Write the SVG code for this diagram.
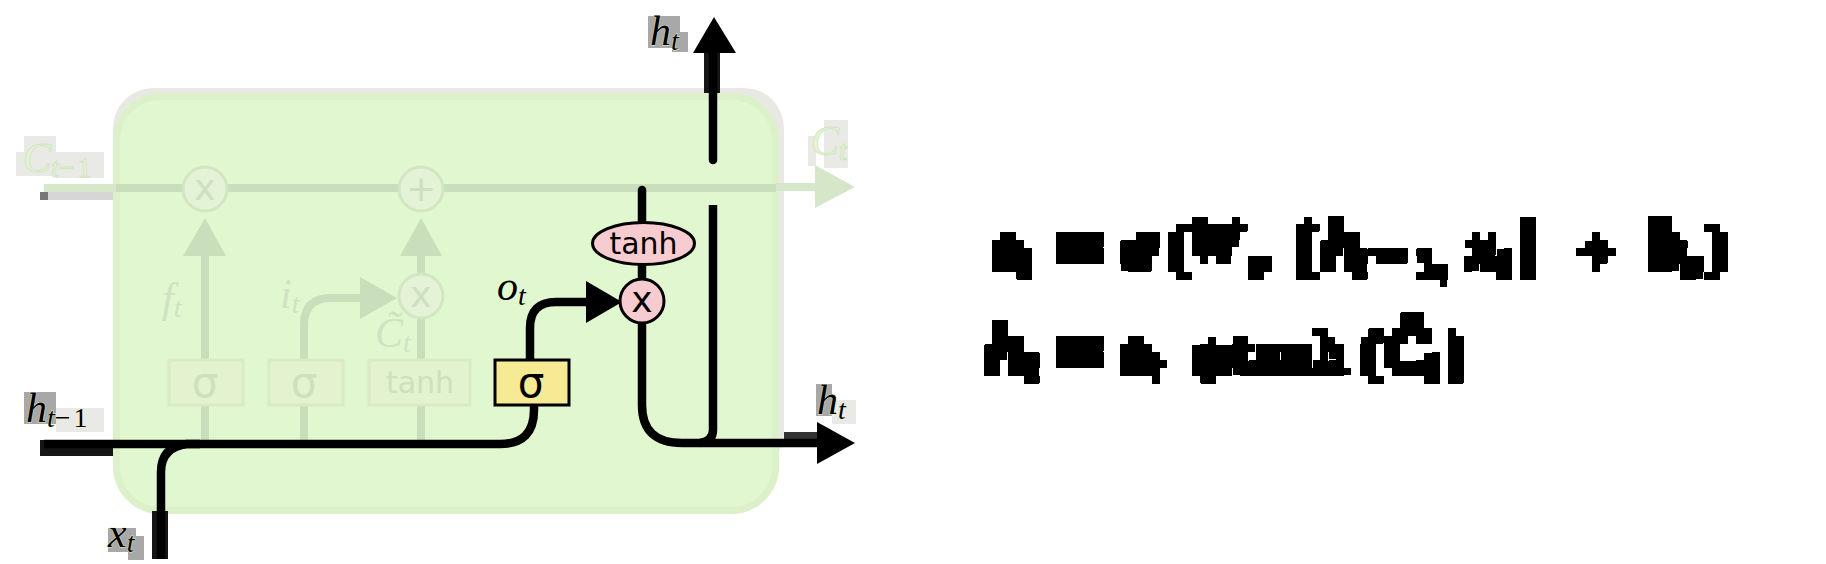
<svg xmlns="http://www.w3.org/2000/svg" width="1826" height="564" viewBox="0 0 1826 564">
<style>
.dim{fill:none;stroke:#c9dfbb;stroke-width:8}
.dimf{fill:#c9dfbb;stroke:none}
.blk{fill:none;stroke:#000;stroke-width:8.500}
.blkf{fill:#000;stroke:none}
.pbox{fill:#e4f3cf;stroke:#d8eac6;stroke-width:3}
.pcirc{fill:#e4f2d5;stroke:#d3e6c3;stroke-width:3}
.ptxt{font-family:"DejaVu Sans",sans-serif;fill:#cde1bf;text-anchor:middle}
.btxt{font-family:"DejaVu Sans",sans-serif;fill:#000;text-anchor:middle}
.m{font-family:"Liberation Serif",serif;font-style:italic}
.u{font-style:normal;letter-spacing:3px}
.lab{fill:#000;stroke:#eef3c8;stroke-width:.8;paint-order:stroke}
.plab{fill:#e6f4d6;stroke:#cfe5bd;stroke-width:.8}
.flab{fill:#d0e2c3}
.halo{fill:#a8a8a8}
.halol{fill:#e9e9e6}
.f{font-family:"Liberation Serif",serif;font-weight:bold;fill:#000;stroke:#000;stroke-width:2.500}
.i{font-style:italic}
.s{font-size:40px}
</style>
<defs>
<filter id="pix" filterUnits="userSpaceOnUse" primitiveUnits="userSpaceOnUse" x="960" y="200" width="800" height="208" color-interpolation-filters="sRGB">
<feGaussianBlur in="SourceGraphic" stdDeviation="3" result="b"/>
<feFlood x="963" y="203" width="2" height="2" flood-color="#000"/>
<feComposite x="960" y="200" width="8" height="8"/>
<feTile result="t"/>
<feComposite in="b" in2="t" operator="in"/>
<feMorphology operator="dilate" radius="3"/>
<feComponentTransfer><feFuncA type="discrete" tableValues="0 1 1 1 1"/></feComponentTransfer>
</filter>
</defs>
<rect width="1826" height="564" fill="#fff"/>
<g id="cell">
<rect x="113" y="88" width="671" height="384" rx="40" fill="#e8e8e5"/>
<rect x="116.500" y="96.500" width="659" height="414" rx="44" fill="#e1f7d0" stroke="#dcf0ca" stroke-width="7"/>
</g>
<g id="connectors">
<rect x="48" y="192" width="65" height="8" fill="#d6d6d4"/>
<rect x="40" y="192" width="8" height="8" fill="#777"/>
<path class="dim" d="M116 188H776"/>
<path d="M44 188H116M776 187H815" fill="none" stroke="#d6e8c9" stroke-width="8"/>
<path class="dim" d="M205 256V359M205 406V440"/>
<path class="dim" d="M421 256V276M421 318V359M421 406V440"/>
<path class="dim" d="M304 440V406M304 359V325Q304 298 331 298H362"/>
<path class="dimf" d="M183 256L205 218L226 256Z"/>
<path class="dimf" d="M400 256L421 218L442 256Z"/>
<path class="dimf" d="M360 277L397 298L360 319Z"/>
<path d="M815 165L855 187L815 208Z" fill="#d5e6c9"/>
<rect x="40" y="440" width="73" height="16" fill="#151515"/>
<rect x="152" y="511" width="16" height="48" fill="#151515"/>
<rect x="704" y="53" width="16" height="40" fill="#151515"/>
<rect x="784" y="432" width="33" height="8" fill="#333"/>
<path class="blk" d="M44 444H500Q534 444 534 410V405"/>
<path class="blk" d="M530 359V328Q530 302 556 302H590"/>
<path class="blk" d="M161 559V472Q161 447 187 444H200"/>
<path class="blk" d="M642 323V405Q642 443 682 443H820"/>
<path class="blk" d="M713 205V430Q713 441 700 443"/>
<path class="blk" stroke-linecap="round" d="M713 53V160"/>
<path class="blk" stroke-linecap="round" d="M642 190V225"/>
<path class="blk" d="M642 262V280"/>
<path class="blkf" d="M586 281L622 302L586 323Z"/>
<path class="blkf" d="M693 53L714 17L736 53Z"/>
<path class="blkf" d="M817 422L855 443L817 464Z"/>
</g>
<g id="node-forget-mul"><circle class="pcirc" cx="205" cy="189" r="22"/><text class="ptxt" x="205" y="200" font-size="36">x</text></g>
<g id="node-add"><circle class="pcirc" cx="421" cy="189" r="22"/><text class="ptxt" x="421" y="201" font-size="36">+</text></g>
<g id="node-input-mul"><circle class="pcirc" cx="421" cy="296" r="22"/><text class="ptxt" x="421" y="307" font-size="36">x</text></g>
<g id="node-sigma-f"><rect class="pbox" x="169" y="360" width="74" height="45"/><text class="ptxt" x="205" y="397" font-size="42">σ</text></g>
<g id="node-sigma-i"><rect class="pbox" x="269" y="360" width="74" height="45"/><text class="ptxt" x="304" y="397" font-size="42">σ</text></g>
<g id="node-tanh-c"><rect class="pbox" x="369" y="360" width="101" height="45"/><text class="ptxt" x="420" y="393" font-size="30">tanh</text></g>
<g id="node-sigma-o"><rect x="495" y="360" width="74" height="45" fill="#f6ea95" stroke="#000" stroke-width="3"/><text class="btxt" x="531" y="397" font-size="42">σ</text></g>
<g id="node-mul"><circle cx="642" cy="301" r="22" fill="#f7ccd0" stroke="#000" stroke-width="3"/><text class="btxt" x="642" y="312" font-size="36">x</text></g>
<g id="node-tanh"><ellipse cx="643.500" cy="243.500" rx="51" ry="21" fill="#f7ccd0" stroke="#000" stroke-width="3"/><text class="btxt" x="643.500" y="254" font-size="30">tanh</text></g>
<g id="labels">
<g id="halos">
<rect class="halol" x="16" y="152" width="40" height="24"/><rect class="halol" x="24" y="136" width="32" height="16"/><rect class="halol" x="56" y="152" width="48" height="26"/>
<rect class="halol" x="808" y="136" width="8" height="30"/><rect class="halol" x="824" y="120" width="24" height="48"/>
<rect class="halo" x="24" y="392" width="32" height="32"/><rect class="halol" x="56" y="408" width="48" height="24"/>
<rect class="halo" x="108" y="528" width="28" height="24"/><rect class="halo" x="128" y="536" width="16" height="24"/>
<rect class="halo" x="648" y="16" width="32" height="32"/><rect class="halo" x="672" y="32" width="16" height="20"/>
<rect class="halo" x="816" y="384" width="16" height="32"/><rect class="halol" x="832" y="400" width="24" height="24"/>
</g>
<text class="m plab" x="23" y="172" font-size="42">C<tspan font-size="28" dy="5">t<tspan class="u">−1</tspan></tspan></text>
<text class="m plab" x="811" y="155" font-size="42">C<tspan font-size="28" dy="5">t</tspan></text>
<text class="m flab" x="162" y="312" font-size="42">f<tspan font-size="28" dy="5">t</tspan></text>
<text class="m flab" x="280" y="308" font-size="42">i<tspan font-size="28" dy="5">t</tspan></text>
<text class="m flab" x="375" y="347" font-size="42">C̃<tspan font-size="28" dy="5">t</tspan></text>
<text class="m lab" x="26" y="422" font-size="42">h<tspan font-size="28" dy="5">t<tspan class="u">−1</tspan></tspan></text>
<text class="m lab" x="108" y="547" font-size="42">x<tspan font-size="28" dy="5">t</tspan></text>
<text class="m lab" x="650" y="45" font-size="42">h<tspan font-size="28" dy="5">t</tspan></text>
<text class="m lab" x="817" y="414" font-size="42">h<tspan font-size="28" dy="5">t</tspan></text>
<text class="m" x="497" y="300" font-size="42">o<tspan font-size="28" dy="5">t</tspan></text>
</g>
<g id="formula" filter="url(#pix)">
<text class="f" font-size="64">
<tspan class="i" x="992" y="268">o</tspan><tspan class="i s" x="1020" y="276">t</tspan>
<tspan font-size="84" x="1056" y="276">=</tspan>
<tspan class="i" x="1122" y="268">σ</tspan>
<tspan font-size="60" x="1168" y="268">(</tspan>
<tspan class="i" font-size="58" x="1188" y="262">W</tspan><tspan class="i s" x="1248" y="276">o</tspan>
<tspan font-size="64" x="1296" y="268">[</tspan>
<tspan class="i" font-size="70" x="1322" y="268">h</tspan><tspan class="i s" x="1352" y="276">t</tspan>
<tspan font-size="72" x="1370" y="278">−</tspan><tspan class="s" x="1418" y="276">1,</tspan>
<tspan class="i" x="1466" y="268">x</tspan><tspan class="i s" x="1498" y="276">t</tspan>
<tspan font-size="64" x="1518" y="268">]</tspan>
<tspan font-size="68" x="1578" y="274">+</tspan>
<tspan class="i" font-size="70" x="1648" y="268">b</tspan><tspan class="i s" x="1682" y="276">o</tspan>
<tspan font-size="60" x="1708" y="268">)</tspan>
</text>
<text class="f" font-size="64">
<tspan class="i" font-size="70" x="986" y="372">h</tspan><tspan class="i s" x="1024" y="380">t</tspan>
<tspan font-size="84" x="1056" y="380">=</tspan>
<tspan class="i" x="1120" y="372">o</tspan><tspan class="i s" x="1150" y="380">t</tspan>
<tspan font-size="60" x="1186" y="382">∗</tspan>
<tspan font-size="60" font-weight="normal" x="1234" y="372" letter-spacing="3">tanh</tspan>
<tspan font-size="60" x="1362" y="372">(</tspan>
<tspan class="i" x="1384" y="372">C̃</tspan><tspan class="i s" x="1426" y="380">t</tspan>
<tspan font-size="60" x="1446" y="372">)</tspan>
</text>
</g>
</svg>
